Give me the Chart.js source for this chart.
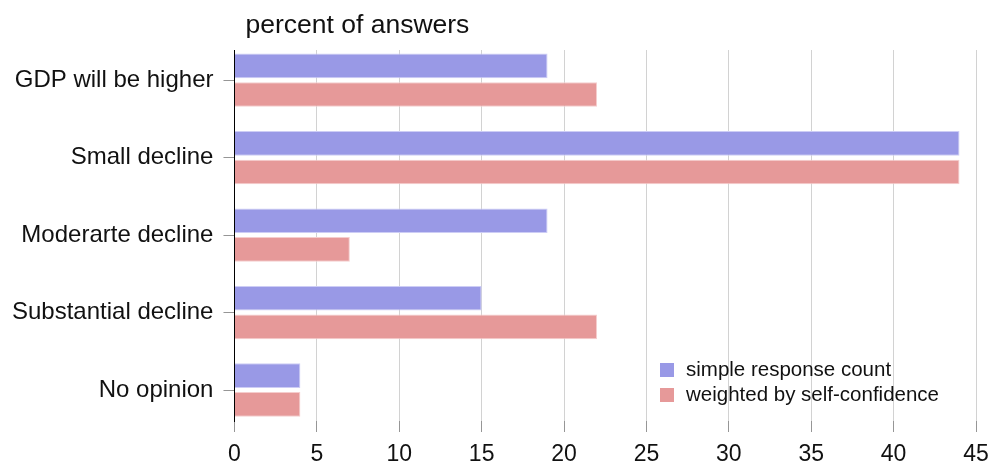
<!DOCTYPE html>
<html>
<head>
<meta charset="utf-8">
<script src="https://cdn.jsdelivr.net/npm/chart.js@4"></script>
<style>
  html, body { margin: 0; padding: 0; background: #fff; }
  #wrap { width: 991px; height: 462px; }
</style>
</head>
<body>
<div id="wrap"><canvas id="chart"></canvas></div>
<script>
const categories = ['GDP will be higher', 'Small decline', 'Moderarte decline', 'Substantial decline', 'No opinion'];
const simpleCount = [19, 44, 19, 15, 4];
const weighted = [22, 44, 7, 22, 4];
const seriesNames = ['simple response count', 'weighted by self-confidence'];
const axisTitle = 'percent of answers';

const FONT = '"Liberation Sans", Arial, Helvetica, sans-serif';

// title sits above the plot, lined up with its left edge
const titlePlugin = {
  id: 'leftTitle',
  afterDraw(c) {
    const ctx = c.ctx;
    ctx.save();
    ctx.font = '26.5px ' + FONT;
    ctx.fillStyle = '#111';
    ctx.textBaseline = 'alphabetic';
    ctx.fillText(axisTitle, c.chartArea.left + 11, 33);
    ctx.restore();
  }
};

// legend floats inside the plot, bottom right
const insideLegend = {
  id: 'insideLegend',
  afterDatasetsDraw(c) {
    const ctx = c.ctx;
    ctx.save();
    ctx.font = '20.5px ' + FONT;
    ctx.textBaseline = 'middle';
    c.data.datasets.forEach((ds, i) => {
      const y = 363 + i * 25;
      ctx.fillStyle = ds.backgroundColor;
      ctx.fillRect(660, y, 14, 14);
      ctx.fillStyle = '#111';
      ctx.fillText(ds.label, 686, y + 7.5);
    });
    ctx.restore();
  }
};

const toPoints = arr => arr.map((v, i) => ({ x: v, y: i }));

new Chart(document.getElementById('chart'), {
  type: 'bar',
  data: {
    datasets: [{
      label: seriesNames[0],
      data: toPoints(simpleCount),
      backgroundColor: 'rgb(153,153,230)',
      borderColor: 'rgb(205,205,245)',
      borderWidth: 1
    }, {
      label: seriesNames[1],
      data: toPoints(weighted),
      backgroundColor: 'rgb(230,153,153)',
      borderColor: 'rgb(245,205,205)',
      borderWidth: 1
    }]
  },
  options: {
    indexAxis: 'y',
    responsive: true,
    maintainAspectRatio: false,
    animation: false,
    categoryPercentage: 0.74,
    barPercentage: 0.86,
    layout: { padding: { top: 50, right: 15, left: 2, bottom: 0 } },
    plugins: {
      legend: { display: false },
      title: { display: false },
      tooltip: { enabled: false }
    },
    scales: {
      x: {
        type: 'linear',
        min: 0,
        max: 45,
        ticks: {
          stepSize: 5,
          color: '#111',
          padding: 9,
          font: { family: FONT, size: 23 }
        },
        afterFit(s) {
          s.height = 41;
          s.paddingRight = 12;
          s.paddingLeft = 0;
        },
        grid: {
          color: 'rgb(210,210,210)',
          tickColor: 'rgb(150,150,150)',
          tickLength: 11,
          lineWidth: 1
        },
        border: { display: false }
      },
      y: {
        type: 'linear',
        reverse: true,
        offset: false,
        min: -0.39,
        max: 4.4,
        ticks: {
          stepSize: 1,
          includeBounds: false,
          color: '#111',
          padding: 10,
          font: { family: FONT, size: 24 },
          callback: v => categories[v]
        },
        afterBuildTicks(s) {
          s.ticks = s.ticks.filter(t => Number.isInteger(t.value));
        },
        grid: {
          offset: false,
          drawOnChartArea: false,
          tickLength: 11,
          color: 'rgb(150,150,150)'
        },
        border: { display: true, color: '#000', width: 1 }
      }
    }
  },
  plugins: [titlePlugin, insideLegend]
});
</script>
</body>
</html>
